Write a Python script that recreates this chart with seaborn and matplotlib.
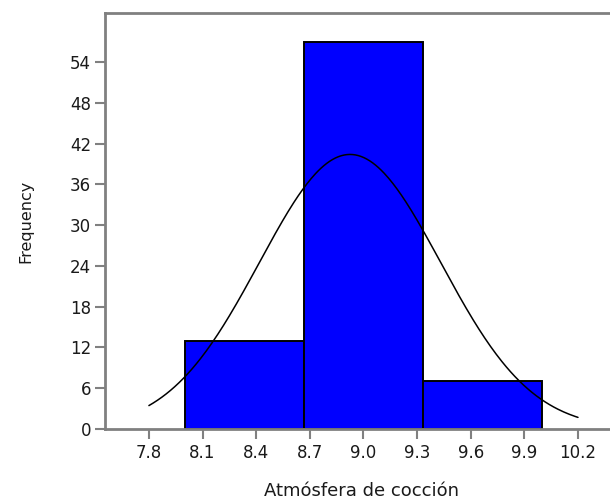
import numpy as np
import matplotlib
matplotlib.use("Agg")
import matplotlib.pyplot as plt
import seaborn as sns

# histogram data
bin_edges = [8.0, 8.6667, 9.3333, 10.0]
counts = [13, 57, 7]
bin_centers = [8.3333, 9.0, 9.6667]

# fitted normal curve parameters
fit_mean = 8.925
fit_sd = 0.507
curve_range = (7.8, 10.2)

x_ticks = [7.8, 8.1, 8.4, 8.7, 9.0, 9.3, 9.6, 9.9, 10.2]
y_ticks = [0, 6, 12, 18, 24, 30, 36, 42, 48, 54]

sns.set_style("white")
plt.rcParams["font.family"] = ["DejaVu Sans"]

fig = plt.figure(figsize=(6.10, 5.01), dpi=100)
ax = fig.add_axes([0.172, 0.1437, 0.84, 0.8303])

sns.histplot(x=bin_centers, weights=counts, bins=bin_edges, ax=ax,
             color="#0000ff", alpha=1, edgecolor="black", linewidth=1.4)

# normal curve scaled to counts
n = sum(counts)
width = bin_edges[1] - bin_edges[0]
xs = np.linspace(curve_range[0], curve_range[1], 300)
ys = n * width * np.exp(-0.5 * ((xs - fit_mean) / fit_sd) ** 2) / (fit_sd * np.sqrt(2 * np.pi))
sns.lineplot(x=xs, y=ys, ax=ax, color="black", linewidth=1.1)

ax.set_xlim(7.554, 10.42)
ax.set_ylim(0, 61.2)
ax.set_xticks(x_ticks)
ax.set_xticklabels([f"{t:.1f}" for t in x_ticks])
ax.set_yticks(y_ticks)

for side in ["left", "top", "bottom"]:
    ax.spines[side].set_color("#808080")
    ax.spines[side].set_linewidth(2)
ax.spines["right"].set_visible(False)

ax.tick_params(axis="both", colors="#808080", direction="out", width=1.5,
               length=7, labelcolor="#1a1a1a", labelsize=12,
               bottom=True, left=True, top=False, right=False)
ax.tick_params(axis="x", pad=4)
ax.tick_params(axis="y", pad=3)

ax.set_xlabel("Atmósfera de cocción", fontsize=13, color="#1a1a1a", labelpad=14)
ax.set_ylabel("Frequency", fontsize=11.5, color="#1a1a1a", labelpad=26)

fig.savefig("out.png", dpi=100)
